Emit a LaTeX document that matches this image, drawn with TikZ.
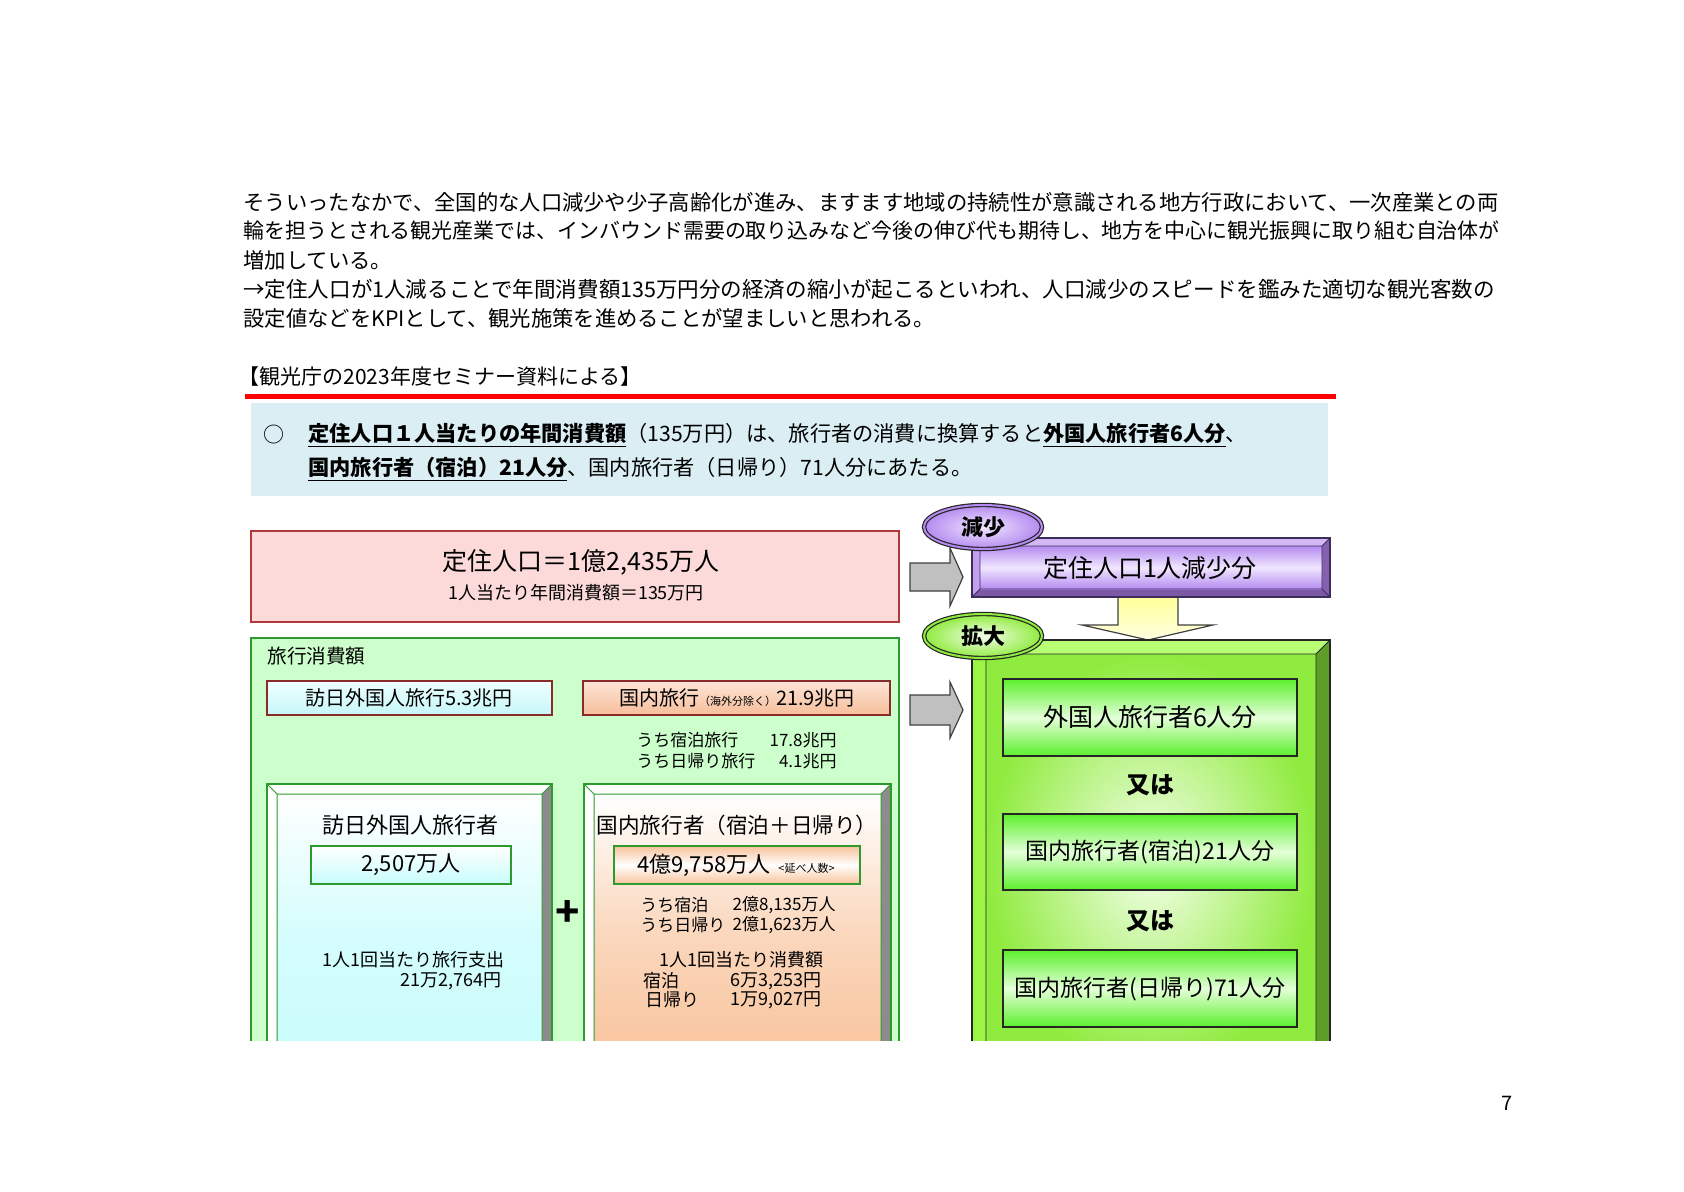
\documentclass[tikz,border=0pt]{standalone}
\usepackage{fontspec}
\setmainfont{Noto Sans CJK JP}
\usetikzlibrary{shapes.geometric}
\newcommand{\myfs}[1]{\fontsize{#1}{#1}\selectfont}
\definecolor{cRed}{HTML}{FF0000}
\definecolor{cBlueBg}{HTML}{DAEEF3}
\definecolor{cPink}{HTML}{FCDADA}
\definecolor{cPinkEdge}{HTML}{B03A3A}
\definecolor{cPanel}{HTML}{CCFFCC}
\definecolor{cPanelEdge}{HTML}{2E9A2E}
\definecolor{cBoxEdge}{HTML}{8B2A2A}
\definecolor{cCyanTop}{HTML}{EFFFFF}
\definecolor{cCyanBot}{HTML}{C6F7F9}
\definecolor{cOrgTop}{HTML}{FDE4D6}
\definecolor{cOrgBot}{HTML}{F7BE9B}
\definecolor{cFaceCyan}{HTML}{C8FCFC}
\definecolor{cFaceOrg}{HTML}{F8C29A}
\definecolor{cGreyBev}{HTML}{8C8C8C}
\definecolor{cArrow}{HTML}{C0C0C0}
\definecolor{cArrowEdge}{HTML}{404040}
\definecolor{cPurFace}{HTML}{B48AF0}
\definecolor{cPurLight}{HTML}{F1E7FF}
\definecolor{cPurTop}{HTML}{D4B8F6}
\definecolor{cPurLeft}{HTML}{C3A0EE}
\definecolor{cPurRight}{HTML}{8560B0}
\definecolor{cPurBot}{HTML}{7C58A6}
\definecolor{cPurEdge}{HTML}{3C2D5A}
\definecolor{cLimeTop}{HTML}{B9FF73}
\definecolor{cLimeLeft}{HTML}{9CF542}
\definecolor{cLimeRight}{HTML}{5E9E28}
\definecolor{cLimeOuter}{HTML}{8FEB3E}
\definecolor{cLimeInner}{HTML}{F4FFEA}
\definecolor{cGreenBox}{HTML}{5CF02E}
\definecolor{cGreenLight}{HTML}{E4FFD8}
\definecolor{cYellow}{HTML}{FFFF99}
\definecolor{cYellowLight}{HTML}{FFFFE0}
\newcommand{\bevel}[9]{%
 \fill[#6] (#1,#2) -- (#3,#2) -- ({#3-#5},{#2+#5}) -- ({#1+#5},{#2+#5}) -- cycle;
 \fill[#7] (#1,#2) -- ({#1+#5},{#2+#5}) -- ({#1+#5},{#4-#5}) -- (#1,#4) -- cycle;
 \fill[#8] (#3,#2) -- (#3,#4) -- ({#3-#5},{#4-#5}) -- ({#3-#5},{#2+#5}) -- cycle;
 \fill[#9] (#1,#4) -- (#3,#4) -- ({#3-#5},{#4-#5}) -- ({#1+#5},{#4-#5}) -- cycle;
}
\begin{document}
\begin{tikzpicture}[x=0.5pt,y=-0.5pt,
  t/.style={inner sep=0pt, text=black},
  greyarrow/.style={fill=cArrow, draw=cArrowEdge, line width=0.6pt},
  greenbox/.style={draw=black!85, line width=0.8pt, top color=cGreenBox, bottom color=cGreenBox, middle color=cGreenLight},
  bubble/.style={ellipse, minimum width=59pt, minimum height=22pt, inner sep=0pt, draw=black!85, line width=0.6pt, double distance=1pt, font=\myfs{11}\bfseries}
]
\useasboundingbox (0,0) rectangle (1684,1192);
\fill[white] (0,0) rectangle (1684,1192);

% paragraph
\node[t, anchor=west, font=\myfs{10.66}] (p1) at (243,202) {そういったなかで、全国的な人口減少や少子高齢化が進み、ますます地域の持続性が意識される地方行政において、一次産業との両};
\node[t, anchor=west, font=\myfs{10.47}] (p2) at (243,231) {輪を担うとされる観光産業では、インバウンド需要の取り込みなど今後の伸び代も期待し、地方を中心に観光振興に取り組む自治体が};
\node[t, anchor=west, font=\myfs{10.66}] (p3) at (243,260) {増加している。};
\node[t, anchor=west, font=\myfs{10.76}] (p4) at (243,289) {→定住人口が1人減ることで年間消費額135万円分の経済の縮小が起こるといわれ、人口減少のスピードを鑑みた適切な観光客数の};
\node[t, anchor=west, font=\myfs{10.66}] (p5) at (243,318) {設定値などをKPIとして、観光施策を進めることが望ましいと思われる。};
\node[t, anchor=west, font=\myfs{10.5}] (src) at (238,377) {【観光庁の2023年度セミナー資料による】};

% red rule and blue banner
\fill[cRed] (245,394) rectangle (1336,399);
\fill[cBlueBg] (251,403) rectangle (1328,496);
\node[t, font=\myfs{10.5}] (circ) at (274,435) {○};
\node[t, anchor=west, font=\myfs{10.6}] (b1) at (308,435) {\underline{\textbf{定住人口１人当たりの年間消費額}}（135万円）は、旅行者の消費に換算すると\underline{\textbf{外国人旅行者6人分}}、};
\node[t, anchor=west, font=\myfs{10.6}] (b2) at (308,469) {\underline{\textbf{国内旅行者（宿泊）21人分}}、国内旅行者（日帰り）71人分にあたる。};

% pink box
\draw[cPinkEdge, fill=cPink, line width=0.8pt] (251,531) rectangle (899,622);
\node[t, font=\myfs{12.5}] (pk1) at (581,562) {定住人口＝1億2,435万人};
\node[t, font=\myfs{9}] (pk2) at (576,593) {1人当たり年間消費額＝135万円};

% grey arrows
\draw[greyarrow] (910,563) -- (950,563) -- (950,548) -- (963,577) -- (950,606) -- (950,591) -- (910,591) -- cycle;
\draw[greyarrow] (910,695) -- (950,695) -- (950,682) -- (963,710) -- (950,738) -- (950,725) -- (910,725) -- cycle;

% yellow arrow
\draw[draw=cArrowEdge, line width=0.6pt, top color=cYellow, bottom color=cYellowLight] (1118,597) -- (1178,597) -- (1178,625) -- (1213,625) -- (1148,640) -- (1082,625) -- (1118,625) -- cycle;

% purple bevel box
\bevel{972}{538}{1330}{597}{8}{cPurTop}{cPurLeft}{cPurRight}{cPurBot}
\shade[top color=cPurFace, bottom color=cPurFace, middle color=cPurLight] (980,546) rectangle (1322,589);
\draw[cPurEdge, line width=0.7pt] (972,538) rectangle (1330,597);
\draw[cPurEdge, line width=0.4pt] (980,546) rectangle (1322,589) (972,538) -- (980,546) (1330,538) -- (1322,546) (972,597) -- (980,589) (1330,597) -- (1322,589);
\node[t, font=\myfs{12.5}] (pu) at (1150,568) {定住人口1人減少分};

\begin{scope}
\clip (0,0) rectangle (1684,1040);
% travel panel
\draw[cPanelEdge, fill=cPanel, line width=0.8pt] (251,638) rectangle (899,1070);
\node[t, anchor=west, font=\myfs{9.8}] (lbl) at (267,656) {旅行消費額};
\draw[cBoxEdge, top color=cCyanTop, bottom color=cCyanBot, line width=0.8pt] (267,681) rectangle (552,715);
\node[t, font=\myfs{10}] (cy1) at (409,698) {訪日外国人旅行5.3兆円};
\draw[cBoxEdge, top color=cOrgTop, bottom color=cOrgBot, line width=0.8pt] (583,681) rectangle (890,715);
\node[t, font=\myfs{10}] (or1) at (737,698) {国内旅行{\myfs{5.5}（海外分除く）}21.9兆円};
\node[t, anchor=west, font=\myfs{8.5}] (u1) at (636,740) {うち宿泊旅行};
\node[t, anchor=east, font=\myfs{8.5}] (u1n) at (837,740) {17.8兆円};
\node[t, anchor=west, font=\myfs{8.5}] (u2) at (636,761) {うち日帰り旅行};
\node[t, anchor=east, font=\myfs{8.5}] (u2n) at (837,761) {4.1兆円};

% left bevel box
\bevel{267}{784}{552}{1070}{10}{white}{white}{cGreyBev}{cGreyBev}
\shade[top color=white, bottom color=cFaceCyan, middle color=cFaceCyan!75] (277,794) rectangle (542,1070);
\draw[cPanelEdge, line width=0.8pt] (267,784) rectangle (552,1070);
\draw[cPanelEdge, line width=0.5pt] (277,794) rectangle (542,1070) (267,784) -- (277,794) (552,784) -- (542,794);
\node[t, font=\myfs{11}] (lt1) at (410,825) {訪日外国人旅行者};
\draw[cPanelEdge, line width=0.8pt, top color=white, bottom color=cFaceCyan] (311,846) rectangle (511,884);
\node[t, font=\myfs{11}] (lt2) at (411,865) {2,507万人};
\node[t, anchor=west, font=\myfs{9}] (lt3) at (322,960) {1人1回当たり旅行支出};
\node[t, anchor=east, font=\myfs{9}] (lt4) at (502,981) {21万2,764円};

\node[t, font=\myfs{20}\bfseries] (plus) at (568,913) {+};

% right bevel box
\bevel{584}{784}{891}{1070}{10}{white}{white}{cGreyBev}{cGreyBev}
\shade[top color=white, bottom color=cFaceOrg, middle color=cFaceOrg!65] (594,794) rectangle (881,1070);
\draw[cPanelEdge, line width=0.8pt] (584,784) rectangle (891,1070);
\draw[cPanelEdge, line width=0.5pt] (594,794) rectangle (881,1070) (584,784) -- (594,794) (891,784) -- (881,794);
\node[t, font=\myfs{10.8}] (rt1) at (737,825) {国内旅行者（宿泊＋日帰り）};
\draw[cPanelEdge, line width=0.8pt, top color=cFaceOrg, bottom color=cFaceOrg, middle color=white] (614,846) rectangle (860,884);
\node[t] (rt2) at (736,865) {{\myfs{11}4億9,758万人}\hspace{4pt}{\myfs{5.5}<延べ人数>}};
\node[t, anchor=west, font=\myfs{8.5}] (rt3) at (640,905) {うち宿泊};
\node[t, anchor=east, font=\myfs{8.5}] (rt3n) at (836,905) {2億8,135万人};
\node[t, anchor=west, font=\myfs{8.5}] (rt4) at (640,925) {うち日帰り};
\node[t, anchor=east, font=\myfs{8.5}] (rt4n) at (836,925) {2億1,623万人};
\node[t, font=\myfs{9}] (rt5) at (741,960) {1人1回当たり消費額};
\node[t, anchor=west, font=\myfs{9}] (rt6) at (643,981) {宿泊};
\node[t, anchor=east, font=\myfs{9}] (rt6n) at (822,981) {6万3,253円};
\node[t, anchor=west, font=\myfs{9}] (rt7) at (645,1000) {日帰り};
\node[t, anchor=east, font=\myfs{9}] (rt7n) at (822,1000) {1万9,027円};

% big green bevel box
\bevel{972}{640}{1330}{1070}{14}{cLimeTop}{cLimeLeft}{cLimeRight}{cLimeRight}
\shade[shading=radial, inner color=cLimeInner, outer color=cLimeOuter] (986,654) rectangle (1316,1070);
\draw[black!85, line width=0.7pt] (972,640) rectangle (1330,1070);
\draw[black!85, line width=0.4pt] (986,654) rectangle (1316,1070) (972,640) -- (986,654) (1330,640) -- (1316,654);
\end{scope}

\draw[greenbox] (1003,679) rectangle (1297,756);
\node[t, font=\myfs{12.5}] (g1) at (1150,717) {外国人旅行者6人分};
\node[t, font=\myfs{12}\bfseries] (or1b) at (1150,785) {又は};
\draw[greenbox] (1003,814) rectangle (1297,890);
\node[t, font=\myfs{11.5}] (g2) at (1150,852) {国内旅行者(宿泊)21人分};
\node[t, font=\myfs{12}\bfseries] (or2b) at (1150,921) {又は};
\draw[greenbox] (1003,950) rectangle (1297,1027);
\node[t, font=\myfs{11.5}] (g3) at (1150,989) {国内旅行者(日帰り)71人分};

% bubbles
\node[bubble, double=cPurFace, shading=radial, inner color=cPurLight, outer color=cPurFace] (gen) at (983,527) {減少};
\node[bubble, double=cLimeOuter, shading=radial, inner color=cLimeInner, outer color=cLimeOuter] (kaku) at (983,636) {拡大};

\node[t, font=\myfs{10}] (pg) at (1507,1103) {7};
\end{tikzpicture}
\end{document}
